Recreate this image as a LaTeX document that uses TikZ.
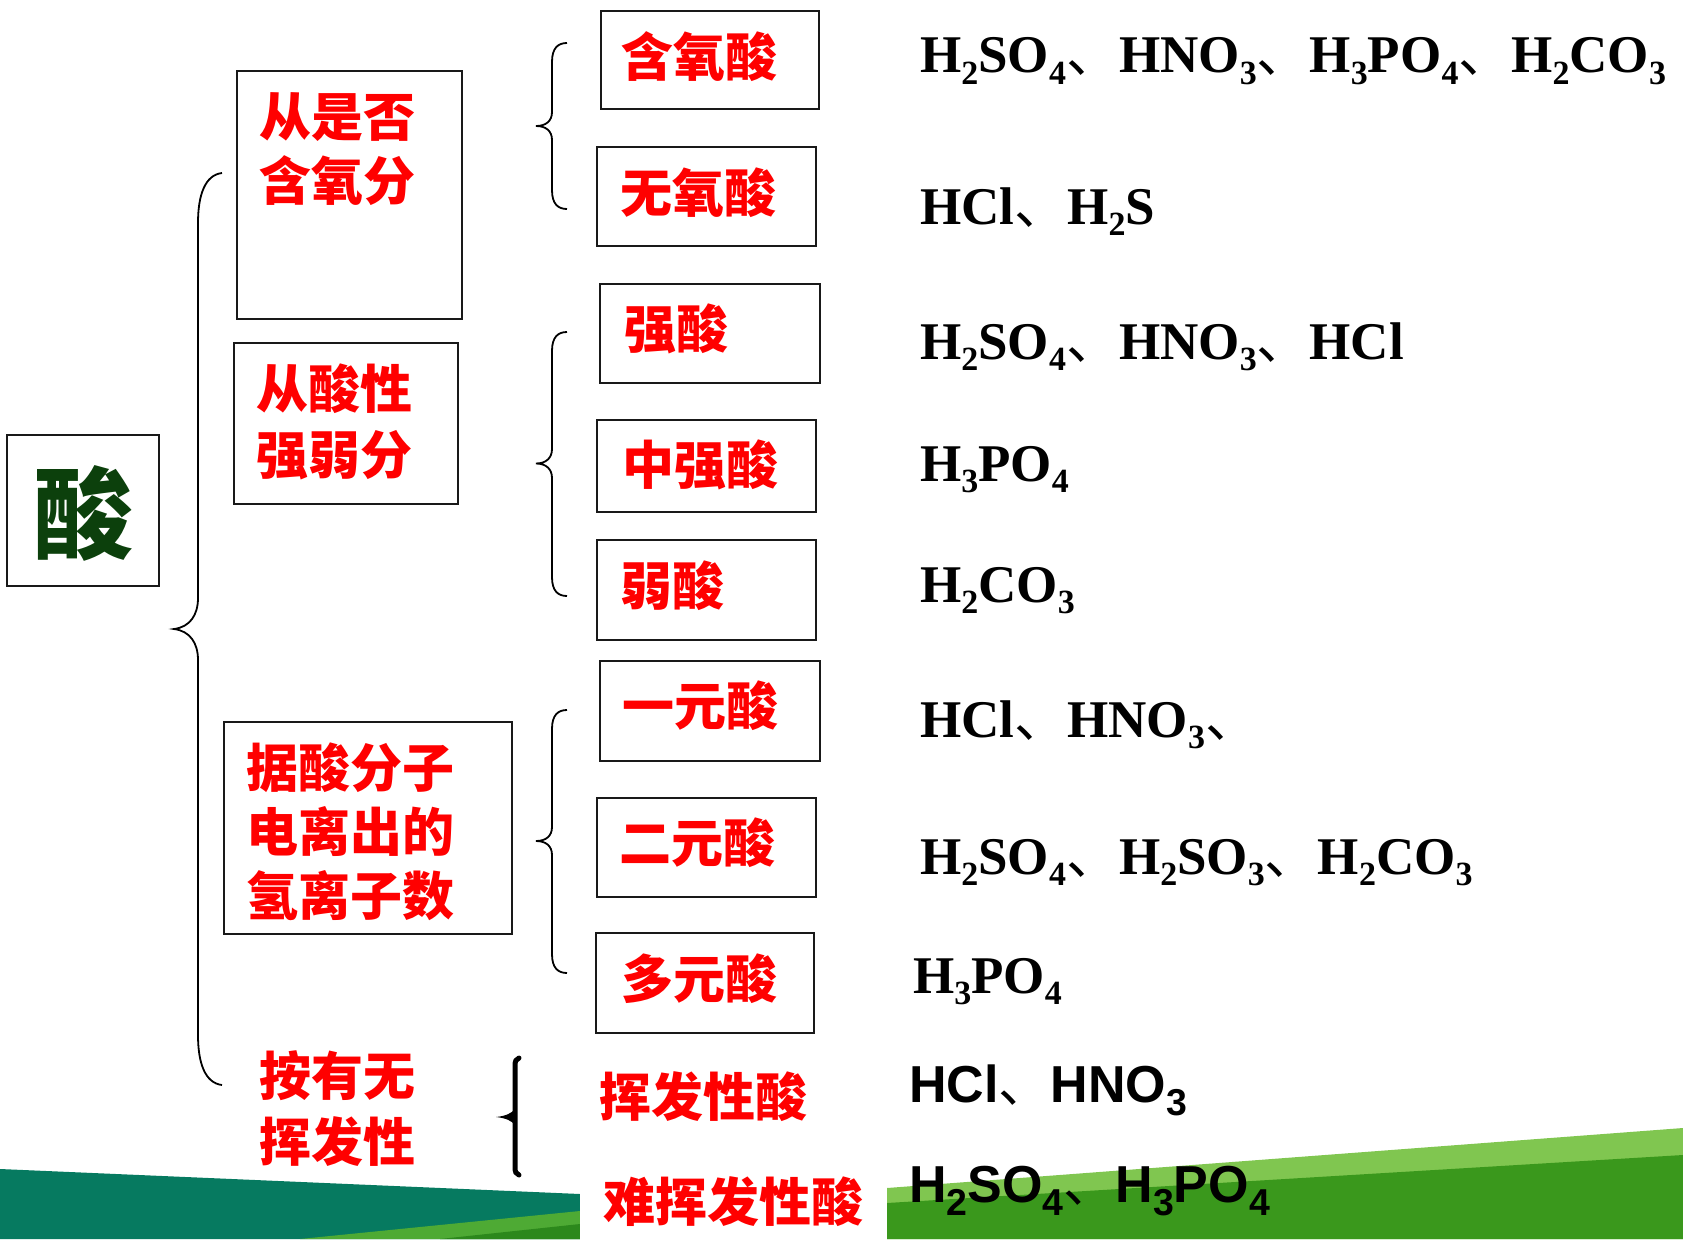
\documentclass[tikz,border=0pt]{standalone}
\usepackage{fontspec}
\usepackage{graphicx}
\setmainfont{Liberation Serif}
\newfontfamily\cjk{Noto Sans CJK SC}
\newfontfamily\arialb{Liberation Sans}
\newcommand\sbx[1]{\raisebox{-0.22em}{\scalebox{0.64}{#1}}}
\newcommand\sbs[1]{\raisebox{-0.26em}{\scalebox{0.72}{#1}}}
\newcommand\dun{{\cjk\mdseries 、}}
\definecolor{labred}{RGB}{255,0,0}
\definecolor{acidgreen}{RGB}{12,64,12}
\definecolor{bandteal}{RGB}{6,122,96}
\definecolor{lgL}{RGB}{78,170,52}
\definecolor{dgL}{RGB}{44,136,28}
\definecolor{lgR}{RGB}{128,198,80}
\definecolor{dgR}{RGB}{58,152,28}
\tikzset{
  box/.style={draw=black!90, line width=2pt, inner sep=0pt},
  lab/.style={text=labred, font=\cjk\bfseries\fontsize{52}{52}\selectfont, anchor=base west, inner sep=0pt},
  form/.style={font=\bfseries\fontsize{53}{53}\selectfont, anchor=base west, inner sep=0pt},
  formsans/.style={font=\arialb\bfseries\fontsize{52}{52}\selectfont, anchor=base west, inner sep=0pt},
  brace/.style={draw=black, line width=1.8pt},
}
\begin{document}
\begin{tikzpicture}[x=1pt,y=-1pt]
\useasboundingbox (0,0) rectangle (1683,1239);
% bottom bands
\fill[bandteal] (0,1169) -- (580,1194) -- (580,1239) -- (0,1239) -- cycle;
\fill[lgL] (300,1239) -- (580,1211) -- (580,1239) -- cycle;
\fill[dgL] (440,1239) -- (580,1224) -- (580,1239) -- cycle;
\fill[lgR] (887,1188) -- (1683,1128) -- (1683,1239) -- (887,1239) -- cycle;
\fill[dgR] (887,1203) -- (1683,1155) -- (1683,1239) -- (887,1239) -- cycle;

% boxes
\node[box, minimum width=152, minimum height=151] (acid) at (83,510.5) {};
\node[box, minimum width=225, minimum height=248] (byO) at (349.5,195) {};
\node[box, minimum width=224.5, minimum height=161] (byS) at (346,423.5) {};
\node[box, minimum width=288, minimum height=212] (byH) at (368,828) {};
\node[box, minimum width=218, minimum height=98] (oxy) at (710,60) {};
\node[box, minimum width=219, minimum height=99] (nooxy) at (706.5,196.5) {};
\node[box, minimum width=220, minimum height=99] (strong) at (710,333) {};
\node[box, minimum width=219, minimum height=92] (mid) at (706.5,466) {};
\node[box, minimum width=219, minimum height=100] (weak) at (706.5,590) {};
\node[box, minimum width=220, minimum height=99.5] (mono) at (710,711) {};
\node[box, minimum width=219, minimum height=99] (di) at (706.5,847) {};
\node[box, minimum width=218.5, minimum height=99.5] (poly) at (705,983) {};

% big character
\node[text=acidgreen, font=\cjk\bfseries\fontsize{100}{100}\selectfont, anchor=base, inner sep=0pt] (acidt) at (83,551) {酸};

% category labels
\node[lab] (o1) at (259,136) {从是否};
\node[lab] (o2) at (259,200) {含氧分};
\node[lab] (s1) at (256,408) {从酸性};
\node[lab] (s2) at (256,474) {强弱分};
\node[lab] (h1) at (246,787) {据酸分子};
\node[lab] (h2) at (246,851) {电离出的};
\node[lab] (h3) at (246,915) {氢离子数};
\node[lab] (v1) at (259,1095) {按有无};
\node[lab] (v2) at (259,1161) {挥发性};

% subclass labels
\node[lab] (oxyt) at (621,76) {含氧酸};
\node[lab] (nooxyt) at (620,212) {无氧酸};
\node[lab] (strongt) at (624,348) {强酸};
\node[lab] (midt) at (622,484) {中强酸};
\node[lab] (weakt) at (620,605) {弱酸};
\node[lab] (monot) at (622,725) {一元酸};
\node[lab] (dit) at (619,862) {二元酸};
\node[lab] (polyt) at (621,998) {多元酸};
\node[lab] (volt) at (599,1116) {挥发性酸};
\node[fill=white, inner sep=0pt, minimum width=307, minimum height=80, anchor=north west] (nvbg) at (580,1160) {};
\node[lab] (nvolt) at (603,1221) {难挥发性酸};

% formulas
\node[form] (f1) at (920,73) {H\sbx{2}SO\sbx{4}\dun HNO\sbx{3}\dun H\sbx{3}PO\sbx{4}\dun H\sbx{2}CO\sbx{3}};
\node[form] (f2) at (920,224) {HCl\dun H\sbx{2}S};
\node[form] (f3) at (920,359) {H\sbx{2}SO\sbx{4}\dun HNO\sbx{3}\dun HCl};
\node[form] (f4) at (920,481) {H\sbx{3}PO\sbx{4}};
\node[form] (f5) at (920,602) {H\sbx{2}CO\sbx{3}};
\node[form] (f6) at (920,737) {HCl\dun HNO\sbx{3}\dun};
\node[form] (f7) at (920,874) {H\sbx{2}SO\sbx{4}\dun H\sbx{2}SO\sbx{3}\dun H\sbx{2}CO\sbx{3}};
\node[form] (f8) at (913,993) {H\sbx{3}PO\sbx{4}};
\node[formsans] (f9) at (909,1102) {HCl\dun HNO\sbs{3}};
\node[formsans] (f10) at (909,1202) {H\sbs{2}SO\sbs{4}\dun H\sbs{3}PO\sbs{4}};

% braces
\path[brace] (222,173) .. controls (205,175) and (198,195) .. (198,223) -- (198,598)
  .. controls (198,615) and (190,627) .. (174,629)
  .. controls (190,631) and (198,643) .. (198,660) -- (198,1035)
  .. controls (198,1063) and (205,1083) .. (222,1085);
\path[brace] (567,43) .. controls (558,43) and (552,48) .. (552,62) -- (552,112)
  .. controls (552,121) and (546,126) .. (536,126)
  .. controls (546,126) and (552,131) .. (552,140) -- (552,190)
  .. controls (552,204) and (558,209) .. (567,209);
\path[brace] (567,332) .. controls (558,332) and (552,337) .. (552,351) -- (552,449)
  .. controls (552,458) and (546,463.5) .. (536,463.5)
  .. controls (546,463.5) and (552,469) .. (552,478) -- (552,577)
  .. controls (552,591) and (558,596) .. (567,596);
\path[brace] (567,710) .. controls (558,710) and (552,715) .. (552,729) -- (552,827)
  .. controls (552,836) and (546,841) .. (536,841)
  .. controls (546,841) and (552,846) .. (552,855) -- (552,954)
  .. controls (552,968) and (558,973) .. (567,973);
% bold brace
\draw[line width=5pt, line cap=round] (519,1058) .. controls (516,1059) and (515,1061) .. (515,1066) -- (515,1167) .. controls (515,1172) and (516,1174) .. (519,1175);
\fill (496,1117) .. controls (506,1116) and (512,1113) .. (515,1109) -- (515,1125) .. controls (512,1121) and (506,1118) .. (496,1117) -- cycle;
\end{tikzpicture}
\end{document}
